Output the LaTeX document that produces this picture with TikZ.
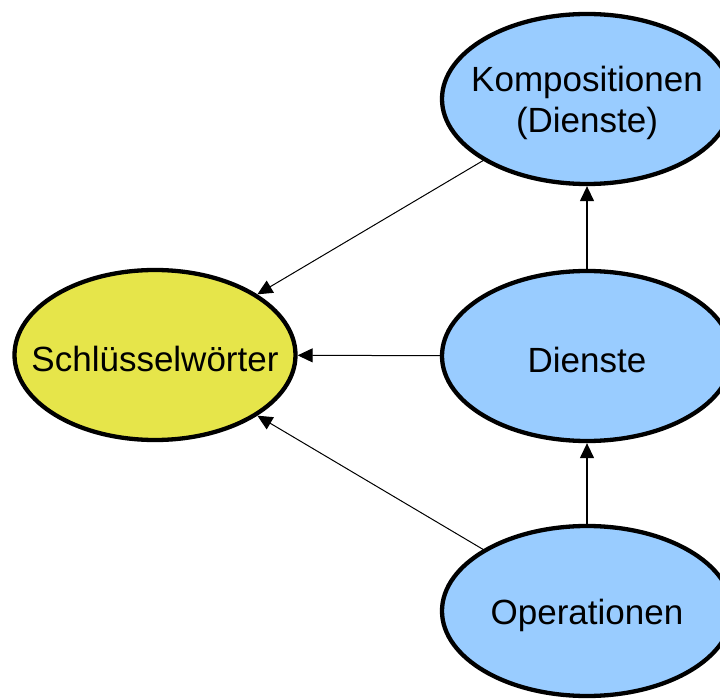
\documentclass[tikz,border=0pt]{standalone}
\usepackage{fontspec}
\setmainfont{Liberation Sans}
\usetikzlibrary{shapes.geometric,arrows.meta}
\definecolor{termblue}{HTML}{99CCFF}
\definecolor{keyyellow}{HTML}{E6E54A}
\tikzset{
  termtext/.style={align=center, inner sep=0pt, yshift=-4pt, font=\fontsize{35}{41}\selectfont},
  term/.style={ellipse, draw=black, line width=4.3pt, inner sep=0pt,
    minimum width=290pt, minimum height=170pt, fill=termblue},
  keyterm/.style={term, fill=keyyellow, minimum width=281pt},
  link/.style={draw=black, line width=1pt, -{Triangle[length=15pt,width=14pt]}},
}
\begin{document}
\begin{tikzpicture}[x=1pt,y=-1pt]
  \useasboundingbox (0,0) rectangle (720,700);
  \clip (0,0) rectangle (720,700);
  \node[keyterm, label={[termtext]center:Schlüsselwörter}] (key) at (155,355) {};
  \node[term, label={[termtext]center:Kompositionen\\(Dienste)}] (comp) at (587,99) {};
  \node[term, label={[termtext]center:Dienste}] (serv) at (587,356) {};
  \node[term, label={[termtext]center:Operationen}] (ops) at (587,611) {};
  \draw[link] (comp) -- (key);
  \draw[link] (serv) -- (key);
  \draw[link] (ops)  -- (key);
  \draw[link, line width=1.3pt] (serv) -- (comp);
  \draw[link, line width=1.3pt] (ops)  -- (serv);
\end{tikzpicture}
\end{document}
